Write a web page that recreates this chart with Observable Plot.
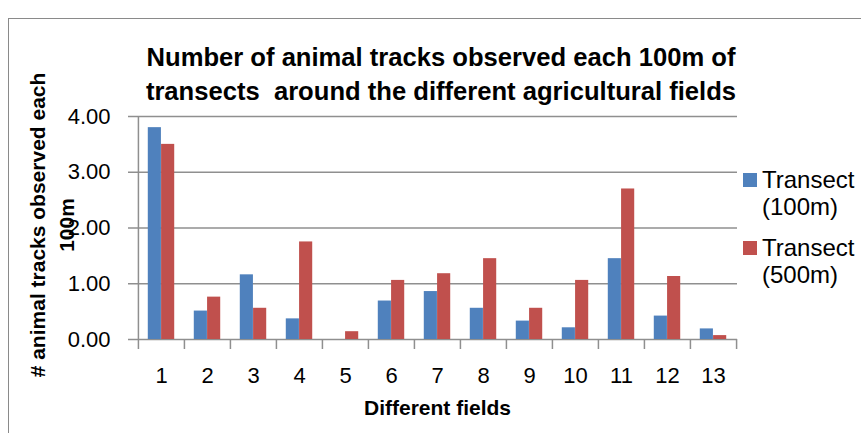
<!DOCTYPE html>
<html>
<head>
<meta charset="utf-8">
<script src="https://cdn.jsdelivr.net/npm/d3@7"></script>
<script src="https://cdn.jsdelivr.net/npm/@observablehq/plot@0.6"></script>
<style>
  html, body { margin: 0; padding: 0; background: #fff; }
  #wrap { position: relative; width: 861px; height: 433px; overflow: hidden; background: #fff;
          font-family: "Liberation Sans", Arial, sans-serif; color: #000; }
  #border { position: absolute; left: 8px; top: 18px; width: 1000px; height: 1000px;
            border-left: 1.5px solid #8a8a8a; border-top: 1.5px solid #8a8a8a; }
  #chart { position: absolute; left: 0; top: 0; }
  #title { position: absolute; left: 0; width: 882px; top: 40px; text-align: center;
           font-weight: bold; font-size: 25.6px; line-height: 34px; white-space: pre; }
  .leg { position: absolute; left: 762px; font-size: 24px; line-height: 27px; white-space: pre; }
  .sw { position: absolute; left: 743px; width: 14px; height: 14px; }
</style>
</head>
<body>
<div id="wrap">
  <div id="border"></div>
  <div id="chart"></div>
  <div id="title"></div>
  <div id="legend"></div>
</div>
<script>
// ---- data ----
const fields = ["1","2","3","4","5","6","7","8","9","10","11","12","13"];
const seriesNames = ["Transect (100m)", "Transect (500m)"];
const legendLabels = ["Transect\n(100m)", "Transect\n(500m)"];
const transect100 = [3.80, 0.51, 1.16, 0.37, 0.00, 0.69, 0.86, 0.56, 0.33, 0.21, 1.45, 0.42, 0.19];
const transect500 = [3.50, 0.76, 0.56, 1.75, 0.14, 1.06, 1.18, 1.45, 0.56, 1.06, 2.70, 1.13, 0.07];
const yTicks = [0, 1, 2, 3, 4];
const colors = ["#4F81BD", "#C0504D"];
const titleLines = ["Number of animal tracks observed each 100m of", "transects  around the different agricultural fields"];
const yLabel = "# animal tracks observed each\n100m";
const xLabel = "Different fields";

// ---- layout ----
const W = 861, H = 433;
const mL = 137, mR = 124, mT = 116, mB = 94;
const bw = (W - mL - mR) / fields.length;
const barW = bw * 0.288;
const side = (bw - 2 * barW) / 2;
const grid = "#8f8f8f";

const rows100 = fields.map((f, i) => ({field: f, value: transect100[i], series: seriesNames[0]}));
const rows500 = fields.map((f, i) => ({field: f, value: transect500[i], series: seriesNames[1]}));

const chart = Plot.plot({
  width: W, height: H,
  marginLeft: mL, marginRight: mR, marginTop: mT, marginBottom: mB,
  style: {fontFamily: '"Liberation Sans", Arial, sans-serif', background: "transparent", color: "#000", overflow: "visible"},
  x: {type: "band", domain: fields, padding: 0, axis: null},
  y: {domain: [0, 4], axis: null},
  marks: [
    Plot.ruleY(yTicks, {stroke: grid, strokeWidth: 1.5}),
    Plot.ruleX([fields[0]], {x: d => d, dx: -bw / 2, stroke: grid, strokeWidth: 1.5}),
    Plot.barY(rows100, {x: "field", y: "value", fill: colors[0], insetLeft: side, insetRight: side + barW}),
    Plot.barY(rows500, {x: "field", y: "value", fill: colors[1], insetLeft: side + barW, insetRight: side}),
    Plot.axisY({ticks: yTicks, tickFormat: d3.format(".2f"), tickSize: 9, tickPadding: 18,
                fontSize: 22, stroke: grid, strokeWidth: 1.5, fill: "#000", label: null}),
    Plot.axisX({ticks: fields, tickSize: 10, tickFormat: () => "", dx: -bw / 2,
                stroke: grid, strokeWidth: 1.5, label: null}),
    Plot.axisX({ticks: [fields[fields.length - 1]], tickSize: 10, tickFormat: () => "", dx: bw / 2,
                stroke: grid, strokeWidth: 1.5, label: null}),
    Plot.axisX({ticks: fields, tickSize: 0, tickPadding: 28, fontSize: 22, fill: "#000", label: null}),
    Plot.text([yLabel], {frameAnchor: "left", textAnchor: "middle", rotate: -90, dx: -87, dy: -3, fontSize: 21,
                fontWeight: "bold", lineHeight: 1.38, fill: "#000"}),
    Plot.text([xLabel], {frameAnchor: "bottom", dy: 75, fontSize: 21, fontWeight: "bold", fill: "#000"})
  ]
});
document.getElementById("chart").appendChild(chart);

document.getElementById("title").textContent = titleLines.join("\n");

const legend = document.getElementById("legend");
const legTops = [166, 234];
seriesNames.forEach((s, i) => {
  const sw = document.createElement("div");
  sw.className = "sw";
  sw.style.top = (legTops[i] + 7) + "px";
  sw.style.background = colors[i];
  legend.appendChild(sw);
  const t = document.createElement("div");
  t.className = "leg";
  t.style.top = legTops[i] + "px";
  t.textContent = legendLabels[i];
  legend.appendChild(t);
});
</script>
</body>
</html>
